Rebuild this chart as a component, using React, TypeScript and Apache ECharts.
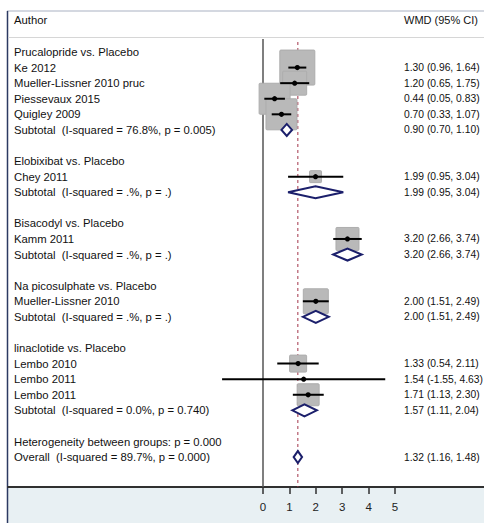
import React, { useEffect, useRef } from "react";
import * as echarts from "echarts";

// ---- data ----
const rowLabels: string[] = [
  "Prucalopride vs. Placebo",
  "Ke 2012",
  "Mueller-Lissner 2010 pruc",
  "Piessevaux 2015",
  "Quigley 2009",
  "Subtotal  (I-squared = 76.8%, p = 0.005)",
  "",
  "Elobixibat vs. Placebo",
  "Chey 2011",
  "Subtotal  (I-squared = .%, p = .)",
  "",
  "Bisacodyl vs. Placebo",
  "Kamm 2011",
  "Subtotal  (I-squared = .%, p = .)",
  "",
  "Na picosulphate vs. Placebo",
  "Mueller-Lissner 2010",
  "Subtotal  (I-squared = .%, p = .)",
  "",
  "linaclotide vs. Placebo",
  "Lembo 2010",
  "Lembo 2011",
  "Lembo 2011",
  "Subtotal  (I-squared = 0.0%, p = 0.740)",
  "",
  "Heterogeneity between groups: p = 0.000",
  "Overall  (I-squared = 89.7%, p = 0.000)",
];

const studyRows = [1, 2, 3, 4, 8, 12, 16, 20, 21, 22];
const studyWMD = [1.3, 1.2, 0.44, 0.7, 1.99, 3.2, 2.0, 1.33, 1.54, 1.71];
const studyLow = [0.96, 0.65, 0.05, 0.33, 0.95, 2.66, 1.51, 0.54, -1.55, 1.13];
const studyHigh = [1.64, 1.75, 0.83, 1.07, 3.04, 3.74, 2.49, 2.11, 4.63, 2.3];
const studyBoxSize = [35, 24, 31, 31, 12, 23, 25, 17, 3, 22];

const pooledRows = [5, 9, 13, 17, 23, 26];
const pooledWMD = [0.9, 1.99, 3.2, 2.0, 1.57, 1.32];
const pooledLow = [0.7, 0.95, 2.66, 1.51, 1.11, 1.16];
const pooledHigh = [1.1, 3.04, 3.74, 2.49, 2.04, 1.48];

const axisTicks = [0, 1, 2, 3, 4, 5];
const nullValue = 0;
const overallWMD = 1.32;

const headerLeft = "Author";
const headerRight = "WMD (95% CI)";

const fmt = (e: number, l: number, h: number) =>
  `${e.toFixed(2)} (${l.toFixed(2)}, ${h.toFixed(2)})`;

const rightLabels: string[] = rowLabels.map(() => "");
studyRows.forEach((r, i) => (rightLabels[r] = fmt(studyWMD[i], studyLow[i], studyHigh[i])));
pooledRows.forEach((r, i) => (rightLabels[r] = fmt(pooledWMD[i], pooledLow[i], pooledHigh[i])));

const FONT = "Arial, 'Liberation Sans', sans-serif";
const TEXT_COLOR = "#111111";

export default function App() {
  const ref = useRef<HTMLDivElement>(null);
  useEffect(() => {
    if (!ref.current) return;
    const chart = echarts.init(ref.current, undefined, { renderer: "svg" });
    const yMin = -0.77;
    const yMax = 27.92;
    const option: any = {
      animation: false,
      backgroundColor: "#ffffff",
      grid: { left: 8, right: 0, top: 40, bottom: 36 },
      xAxis: {
        type: "value",
        position: "bottom",
        min: -9.659,
        max: 8.371,
        splitLine: { show: false },
        axisLine: { show: true, onZero: false, lineStyle: { color: "#303030", width: 2 } },
        axisTick: {
          show: true,
          customValues: axisTicks,
          length: 7,
          lineStyle: { color: "#303030", width: 1.5 },
        },
        axisLabel: {
          show: true,
          customValues: axisTicks,
          margin: 14,
          fontSize: 11.5,
          fontFamily: FONT,
          color: "#222",
        },
      },
      yAxis: {
        type: "value",
        inverse: true,
        min: yMin,
        max: yMax,
        show: false,
      },
      graphic: [
        {
          type: "rect",
          z: -10,
          shape: { x: 8, y: 488, width: 476, height: 35 },
          style: { fill: "#e8f0f3" },
          silent: true,
        },
        {
          type: "line",
          shape: { x1: 7, y1: 11, x2: 484, y2: 11 },
          style: { stroke: "#a9b1c2", lineWidth: 1 },
          silent: true,
        },
        {
          type: "line",
          shape: { x1: 7.5, y1: 11, x2: 7.5, y2: 523 },
          style: { stroke: "#2c3a62", lineWidth: 1.5 },
          silent: true,
        },
        {
          type: "line",
          shape: { x1: 8, y1: 37.5, x2: 484, y2: 37.5 },
          style: { stroke: "#d6d6d6", lineWidth: 1 },
          silent: true,
        },
        {
          type: "text",
          x: 14,
          y: 20,
          style: {
            text: headerLeft,
            fontSize: 11.3,
            fontFamily: FONT,
            fill: TEXT_COLOR,
            verticalAlign: "middle",
            align: "left",
          },
        },
        {
          type: "text",
          x: 404,
          y: 20,
          style: {
            text: headerRight,
            fontSize: 11,
            fontFamily: FONT,
            fill: TEXT_COLOR,
            verticalAlign: "middle",
            align: "left",
          },
        },
      ],
      series: [
        // reference lines (null effect and overall estimate)
        {
          type: "custom",
          z: 1,
          silent: true,
          data: [
            [nullValue, 0],
            [overallWMD, 1],
          ],
          renderItem: (params: any, api: any) => {
            const v = api.value(0);
            const dashed = api.value(1) === 1;
            const a = api.coord([v, yMin]);
            const b = api.coord([v, yMax]);
            return {
              type: "line",
              shape: { x1: a[0], y1: dashed ? a[1] + 2 : a[1] - 1, x2: b[0], y2: b[1] },
              style: dashed
                ? { stroke: "#a3354a", lineWidth: 1, lineDash: [3, 3] }
                : { stroke: "#555555", lineWidth: 1.5 },
            };
          },
        },
        // study boxes
        {
          type: "custom",
          z: 2,
          silent: true,
          data: studyRows.map((r, i) => [studyWMD[i], r, studyBoxSize[i]]),
          renderItem: (params: any, api: any) => {
            const c = api.coord([api.value(0), api.value(1)]);
            const s = api.value(2);
            return {
              type: "rect",
              shape: { x: c[0] - s / 2, y: c[1] - s / 2, width: s, height: s, r: 1 },
              style: { fill: "#b9b9b9", stroke: "#adadad", lineWidth: 1 },
            };
          },
        },
        // confidence intervals + point estimates
        {
          type: "custom",
          z: 3,
          silent: true,
          data: studyRows.map((r, i) => [studyWMD[i], r, studyLow[i], studyHigh[i]]),
          renderItem: (params: any, api: any) => {
            const row = api.value(1);
            const c = api.coord([api.value(0), row]);
            const l = api.coord([api.value(2), row]);
            const h = api.coord([api.value(3), row]);
            return {
              type: "group",
              children: [
                {
                  type: "line",
                  shape: { x1: l[0], y1: l[1], x2: h[0], y2: h[1] },
                  style: { stroke: "#000000", lineWidth: 2 },
                },
                {
                  type: "circle",
                  shape: { cx: c[0], cy: c[1], r: 2.6 },
                  style: { fill: "#000000" },
                },
              ],
            };
          },
        },
        // pooled diamonds
        {
          type: "custom",
          z: 4,
          silent: true,
          data: pooledRows.map((r, i) => [pooledWMD[i], r, pooledLow[i], pooledHigh[i]]),
          renderItem: (params: any, api: any) => {
            const row = api.value(1);
            const c = api.coord([api.value(0), row]);
            const l = api.coord([api.value(2), row]);
            const h = api.coord([api.value(3), row]);
            const hh = 6;
            return {
              type: "polygon",
              shape: {
                points: [
                  [l[0], l[1]],
                  [c[0], c[1] - hh],
                  [h[0], h[1]],
                  [c[0], c[1] + hh],
                ],
              },
              style: { fill: "#ffffff", stroke: "#1b1f6b", lineWidth: 2 },
            };
          },
        },
        // row texts
        {
          type: "custom",
          z: 5,
          silent: true,
          data: rowLabels.map((_, i) => [0, i]),
          renderItem: (params: any, api: any) => {
            const idx = params.dataIndex;
            const c = api.coord([0, api.value(1)]);
            const left = rowLabels[idx];
            const right = rightLabels[idx];
            const children: any[] = [];
            if (left)
              children.push({
                type: "text",
                x: 14,
                y: c[1],
                style: {
                  text: left,
                  fontSize: 11.3,
                  fontFamily: FONT,
                  fill: TEXT_COLOR,
                  verticalAlign: "middle",
                  align: "left",
                },
              });
            if (right)
              children.push({
                type: "text",
                x: 404,
                y: c[1],
                style: {
                  text: right,
                  fontSize: 10.3,
                  fontFamily: FONT,
                  fill: TEXT_COLOR,
                  verticalAlign: "middle",
                  align: "left",
                },
              });
            return { type: "group", children };
          },
        },
      ],
    };
    chart.setOption(option);
    return () => chart.dispose();
  }, []);
  return (
    <div
      ref={ref}
      style={{ position: "fixed", left: 0, top: 0, width: 484, height: 523 }}
    />
  );
}
